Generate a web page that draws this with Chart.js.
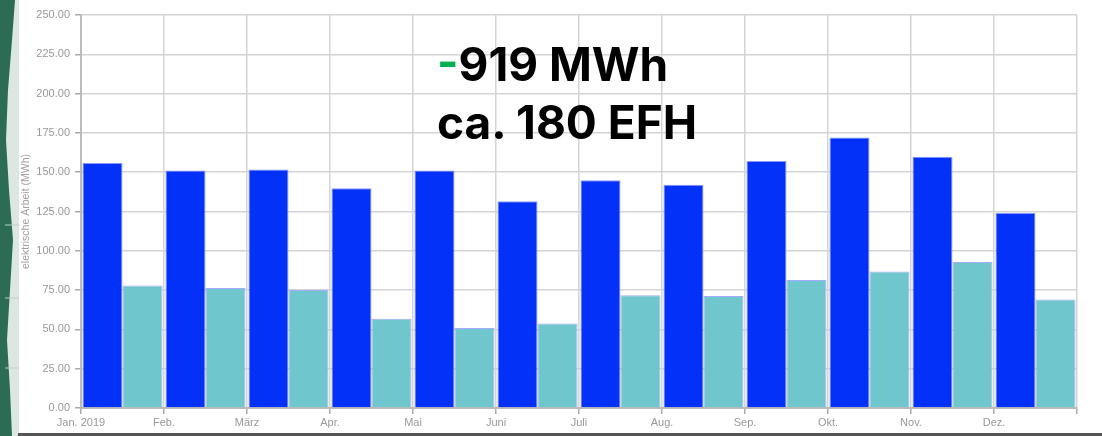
<!DOCTYPE html>
<html>
<head>
<meta charset="utf-8">
<script src="https://cdn.jsdelivr.net/npm/chart.js@4/dist/chart.umd.min.js"></script>
<style>
  body { margin: 0; background: #fff; }
  #wrap { position: relative; width: 1102px; height: 436px; overflow: hidden; }
  #chartBox { position: absolute; left: 0; top: 0; width: 1102px; height: 436px; }
  #strip { position: absolute; left: 0; top: 0; width: 19px; height: 436px; background: #dce7e1; }
  #bottomLine { position: absolute; left: 18px; top: 433px; width: 1084px; height: 3px; background: #555; }
  .big { position: absolute; left: 437px; font-family: Inter, "Open Sans", sans-serif; font-weight: 700;
         font-size: 46px; line-height: 58px; color: #000; white-space: nowrap; }
  .big .minus { color: #00b050; }
</style>
</head>
<body>
<div id="wrap">
  <div id="chartBox"><canvas id="columnChart"></canvas></div>
  <div id="strip">
    <svg width="19" height="436">
      <path d="M0 0 L15 0 L12 40 L8 90 L6 140 L9 190 L13 240 L10 290 L7 340 L10 390 L12 436 L0 436 Z" fill="#2c6c55"/>
      <line x1="5" y1="225" x2="19" y2="225" stroke="#b9d3c4" stroke-width="1"/>
      <line x1="5" y1="298" x2="19" y2="298" stroke="#b9d3c4" stroke-width="1"/>
      <line x1="5" y1="368" x2="19" y2="368" stroke="#b9d3c4" stroke-width="1"/>
    </svg>
  </div>
  <div id="bottomLine"></div>
  <div class="big" style="top:35px"><span class="minus">-</span>919 MWh</div>
  <div class="big" style="top:93px">ca. 180 EFH</div>
</div>
<script>
// monthly values (MWh)
const months = ['Jan.', 'Feb.', 'März', 'Apr.', 'Mai', 'Juni', 'Juli', 'Aug.', 'Sep.', 'Okt.', 'Nov.', 'Dez.'];
const tickLabels = ['Jan. 2019', 'Feb.', 'März', 'Apr.', 'Mai', 'Juni', 'Juli', 'Aug.', 'Sep.', 'Okt.', 'Nov.', 'Dez.', ''];
const arbeitVorher = [155.9, 151.1, 151.7, 139.8, 151.1, 131.5, 144.9, 142.0, 157.2, 172.1, 159.8, 124.0];
const arbeitNachher = [77.9, 76.3, 75.0, 56.8, 50.9, 53.8, 71.8, 71.2, 81.4, 86.8, 92.8, 69.0];
const yTicks = [0, 25, 50, 75, 100, 125, 150, 175, 200, 225, 250];

const fontFamily = '"Liberation Sans", Arial, sans-serif';

document.addEventListener("DOMContentLoaded", function() {
  const data = {
    labels: months,
    datasets: [
      {
        label: 'vorher',
        data: arbeitVorher,
        backgroundColor: '#0331f7',
        borderColor: '#8a97ff',
        borderWidth: 1,
        categoryPercentage: 0.964,
        barPercentage: 1
      },
      {
        label: 'nachher',
        data: arbeitNachher,
        backgroundColor: '#6fc6cc',
        borderColor: '#a3acff',
        borderWidth: 1,
        categoryPercentage: 0.964,
        barPercentage: 1
      }
    ]
  };

  const ctx = document.getElementById('columnChart').getContext('2d');

  new Chart(ctx, {
    type: 'bar',
    data: data,
    options: {
      responsive: true,
      maintainAspectRatio: false,
      animation: false,
      layout: { padding: { left: 19, right: 25, top: 15, bottom: 0 } },
      plugins: {
        legend: { display: false },
        tooltip: { enabled: false }
      },
      scales: {
        x: {
          display: false,
          offset: true
        },
        x2: {
          type: 'category',
          labels: tickLabels,
          position: 'bottom',
          offset: false,
          grid: { offset: false, color: '#d4d4d4', lineWidth: 1.5, tickLength: 6, tickColor: '#aaa' },
          border: { color: '#bbb', width: 2 },
          ticks: { color: '#999', font: { size: 11, family: fontFamily }, maxRotation: 0, autoSkip: false, padding: 2 },
          afterFit: function(scale) { scale.height = 28; }
        },
        y: {
          min: 0,
          max: 250,
          afterBuildTicks: function(scale) { scale.ticks = yTicks.map(v => ({ value: v })); },
          ticks: {
            color: '#999',
            font: { size: 11, family: fontFamily },
            padding: 5,
            callback: v => Number(v).toFixed(2)
          },
          grid: { color: '#d4d4d4', lineWidth: 1.5, tickLength: 6, tickColor: '#aaa' },
          border: { color: '#bbb', width: 2 },
          title: {
            display: true,
            text: 'elektrische Arbeit (MWh)',
            color: '#a0a0a0',
            font: { size: 10.5, family: fontFamily },
            padding: { top: 1, bottom: 0 }
          },
          afterFit: function(scale) { scale.width = 62; }
        }
      }
    }
  });
});
</script>
</body>
</html>
